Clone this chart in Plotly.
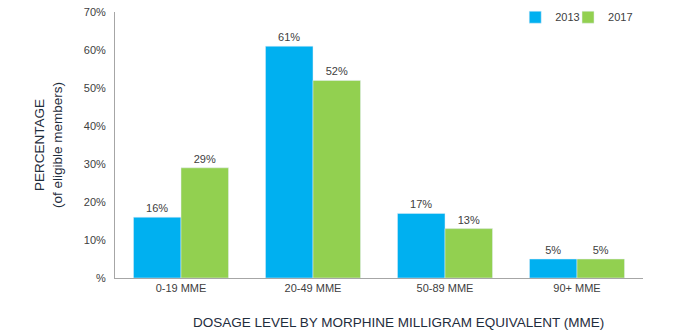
import plotly.graph_objects as go

categories = ["0-19 MME", "20-49 MME", "50-89 MME", "90+ MME"]
series_names = ["2013", "2017"]
values_2013 = [16, 61, 17, 5]
values_2017 = [29, 52, 13, 5]
y_ticks = [0, 10, 20, 30, 40, 50, 60, 70]
y_tick_labels = ["%", "10%", "20%", "30%", "40%", "50%", "60%", "70%"]

colors = ["#00b0f0", "#92d050"]
legend_ids = ["legend", "legend2"]
font_family = "Liberation Sans, Arial, sans-serif"
text_color = "#404040"
title_color = "#1f2d3d"

fig = go.Figure()
for name, vals, col, lg in zip(series_names, [values_2013, values_2017], colors, legend_ids):
    fig.add_trace(go.Bar(
        x=categories, y=vals, name=name, marker_color=col, legend=lg,
        text=[f"{v}%" for v in vals], textposition="outside",
        textfont=dict(size=11, color=text_color, family=font_family),
        cliponaxis=False,
    ))

legend_style = dict(orientation="h", y=1.035, xanchor="left", yanchor="top",
                    font=dict(size=11, color=text_color), itemwidth=30,
                    bgcolor="rgba(0,0,0,0)")

fig.update_layout(
    width=700, height=332,
    margin=dict(l=115, r=57, t=12, b=54, autoexpand=False),
    paper_bgcolor="white", plot_bgcolor="white",
    barmode="group", bargap=0.28, bargroupgap=0,
    font=dict(family=font_family, size=11, color=text_color),
    legend=dict(x=0.758, **legend_style),
    legend2=dict(x=0.858, **legend_style),
    showlegend=True,
    annotations=[dict(
        text="DOSAGE LEVEL BY MORPHINE MILLIGRAM EQUIVALENT (MME)",
        xref="paper", yref="paper", x=0.536, y=-0.13, xanchor="center", yanchor="top",
        showarrow=False, font=dict(size=13.5, color=title_color),
    )],
)
fig.update_yaxes(
    range=[0, 70], tickvals=y_ticks, ticktext=y_tick_labels,
    showgrid=False, showline=True, linecolor="#a6a6a6", linewidth=1,
    ticks="", ticklabelstandoff=6,
    tickfont=dict(size=11, color=text_color),
    title=dict(text="PERCENTAGE<br>(of eligible members)",
               font=dict(size=13.5, color=title_color), standoff=18),
    zeroline=False,
)
fig.update_xaxes(
    showgrid=False, showline=True, linecolor="#a6a6a6", linewidth=1,
    ticks="", tickfont=dict(size=11, color=text_color),
)

fig.write_html("out.html")
